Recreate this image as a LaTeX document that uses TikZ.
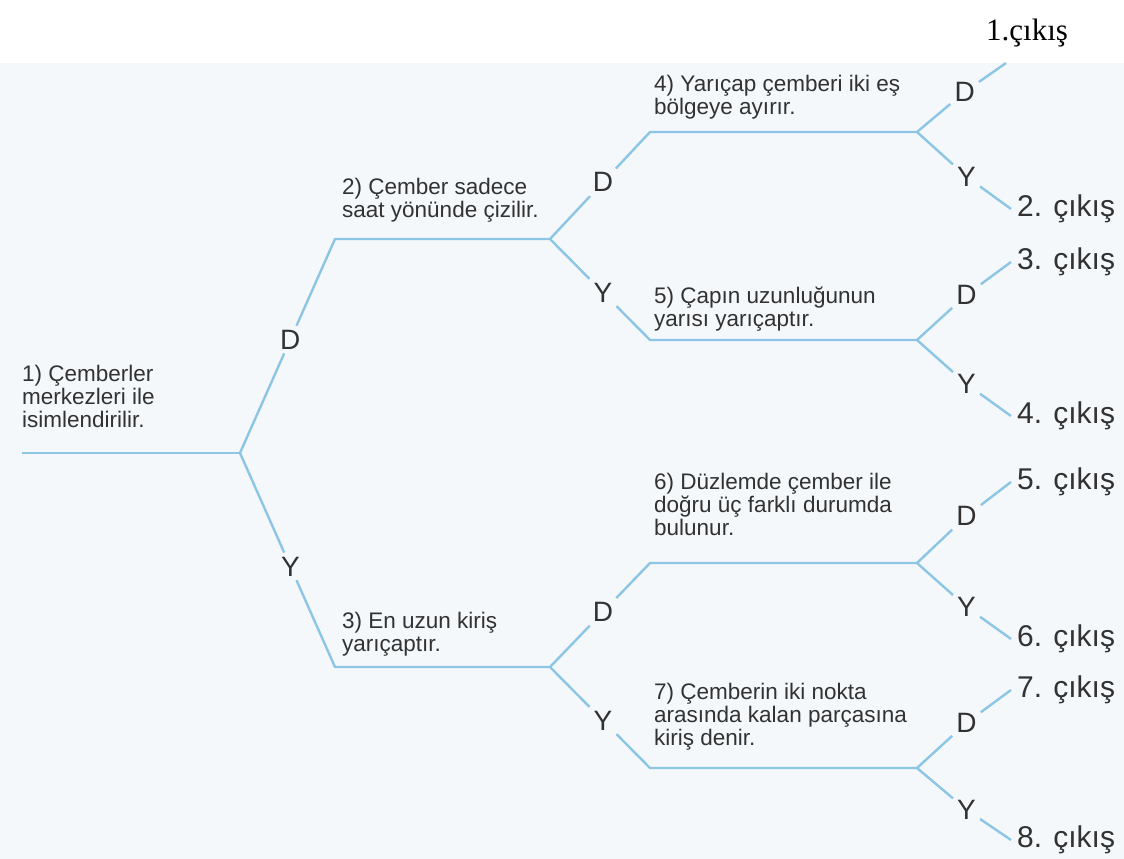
\documentclass[tikz,border=0pt]{standalone}
\usepackage{fontspec}
\usetikzlibrary{positioning}
\newfontfamily\treefont{Liberation Sans}
\newfontfamily\notefont{Liberation Serif}
\definecolor{scanblue}{RGB}{244,248,251}
\definecolor{treeblue}{RGB}{141,197,229}
\definecolor{printgray}{RGB}{50,50,50}

\begin{document}
\begin{tikzpicture}[x=1pt,y=1pt,line join=round]
        % Colors
        \colorlet{branchcolor}{treeblue}
        \colorlet{textcolor}{printgray}
        % Styles
        \tikzstyle{branch}=[draw=branchcolor,line width=2.4pt]
        \tikzstyle{question}=[inner sep=0pt,align=left,text=textcolor,font=\treefont\fontsize{22.5}{23}\selectfont,execute at end node=\strut]
        \tikzstyle{answer}=[inner sep=4pt,text=textcolor,font=\treefont\fontsize{28}{28}\selectfont]
        \tikzstyle{exit}=[anchor=west,inner xsep=6pt,inner ysep=0pt,text=textcolor,font=\treefont\fontsize{30}{30}\selectfont]
        \tikzstyle{note}=[inner sep=0pt,font=\notefont\fontsize{31}{31}\selectfont]
        %The paper
        \useasboundingbox (0,0) rectangle (1124,859);
        \fill[scanblue] (0,0) rectangle (1124,796);
        \node[note,anchor=base west] (first) at (986,818) {1.çıkış};
        %The questions
        \coordinate (s1) at (22,406);  \coordinate (b1) at (240,406);
        \coordinate (s2) at (335,620); \coordinate (b2) at (550,620);
        \coordinate (s3) at (335,192); \coordinate (b3) at (550,192);
        \coordinate (s4) at (650,727); \coordinate (b4) at (917,727);
        \coordinate (s5) at (650,519); \coordinate (b5) at (917,519);
        \coordinate (s6) at (650,296); \coordinate (b6) at (917,296);
        \coordinate (s7) at (650,91);  \coordinate (b7) at (917,91);
        \node[question,above right=18pt and 0pt of s1] (q1) {1) Çemberler\\merkezleri ile\\isimlendirilir.};
        \node[question,above right=14pt and 7pt of s2] (q2) {2) Çember sadece\\saat yönünde çizilir.};
        \node[question,above right=8pt and 7pt of s3] (q3) {3) En uzun kiriş\\yarıçaptır.};
        \node[question,above right=10pt and 4pt of s4] (q4) {4) Yarıçap çemberi iki eş\\bölgeye ayırır.};
        \node[question,above right=6pt and 4pt of s5] (q5) {5) Çapın uzunluğunun\\yarısı yarıçaptır.};
        \node[question,above right=20pt and 4pt of s6] (q6) {6) Düzlemde çember ile\\doğru üç farklı durumda\\bulunur.};
        \node[question,above right=15pt and 4pt of s7] (q7) {7) Çemberin iki nokta\\arasında kalan parçasına\\kiriş denir.};
        %The inner branches
        \foreach \q/\hi/\lo in {1/2/3, 2/4/5, 3/6/7}{
            \path (b\q) -- node[answer,pos=.53] (d\q) {D} (s\hi)
                  (b\q) -- node[answer,pos=.53] (y\q) {Y} (s\lo);
            \draw[branch] (b\q) -- (d\q) -- (s\hi) -- (b\hi)
                          (b\q) -- (y\q) -- (s\lo) -- (b\lo);
        }
        \draw[branch] (s1) -- (b1);
        %The exits
        \coordinate (cut4) at (1006,796);
        \node[exit] (o2) at (1011,650) {2. çıkış};
        \path (b4) -- node[answer,pos=.58,xshift=-4pt] (dd4) {D} (cut4)
              (b4) -- node[answer,pos=.58,xshift=-5pt] (yy4) {Y} (o2.west);
        \draw[branch] (b4) -- (dd4) -- (cut4)
                      (b4) -- (yy4) -- (o2.west);
        \foreach \q/\dex/\upy/\yex/\loy in {5/3/597/4/443, 6/5/377/6/220, 7/7/169/8/19}{
            \node[exit] (o\dex) at (1011,\upy) {\dex. çıkış};
            \node[exit] (o\yex) at (1011,\loy) {\yex. çıkış};
            \path (b\q) -- node[answer,pos=.58,xshift=-5pt] (dd\q) {D} (o\dex.west)
                  (b\q) -- node[answer,pos=.58,xshift=-5pt] (yy\q) {Y} (o\yex.west);
            \draw[branch] (b\q) -- (dd\q) -- (o\dex.west)
                          (b\q) -- (yy\q) -- (o\yex.west);
        }
\end{tikzpicture}
\end{document}
